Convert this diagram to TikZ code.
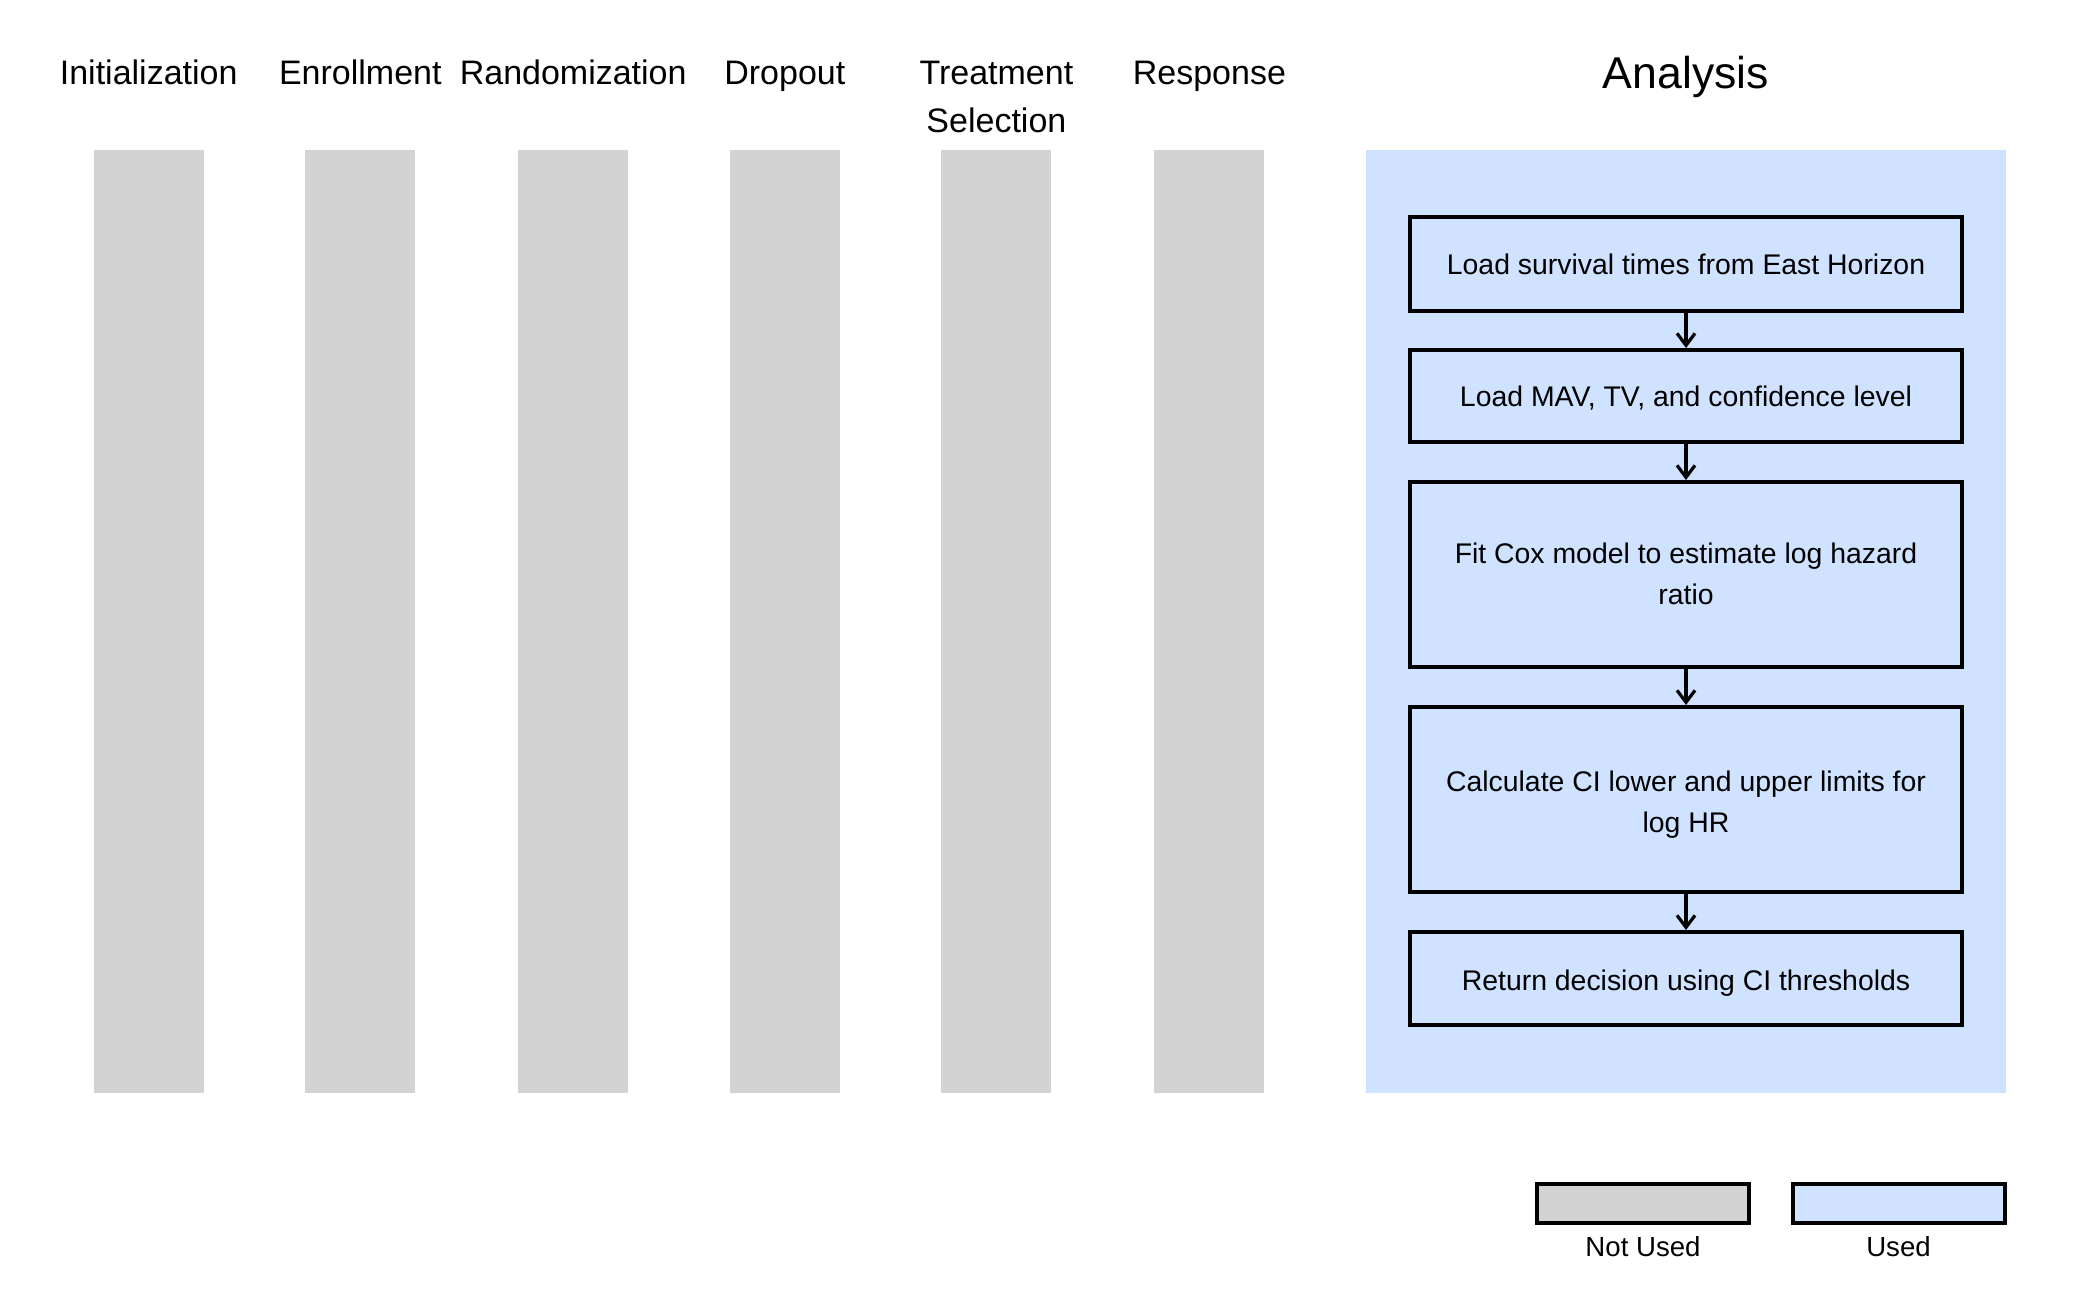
\documentclass[tikz,border=0pt]{standalone}
\usepackage{fontspec}
\setmainfont{Liberation Sans}
\usetikzlibrary{arrows.meta}
\definecolor{unused}{RGB}{211,211,211}
\definecolor{used}{RGB}{207,226,255}
\newcommand{\lowered}[2]{\raisebox{-#1}[\height][\depth]{\begin{tabular}{@{}c@{}}#2\end{tabular}}}
\tikzset{
  px/.style={x=0.5pt,y=-0.5pt},
  lane/.style={rectangle,fill=unused,draw=none,minimum width=55pt,minimum height=471.5pt,inner sep=0pt},
  lanelabel/.style={font=\fontsize{17}{24}\selectfont,align=center,inner sep=0pt,anchor=base},
  stepbox/.style={rectangle,draw=black,line width=2pt,fill=used,minimum width=276pt,align=center,font=\fontsize{14.2}{20.7}\selectfont,inner sep=0pt},
  flow/.style={line width=1.6pt,-{Straight Barb[length=6pt,width=9pt,line width=1.6pt]}},
  legbox/.style={rectangle,draw=black,line width=2pt,minimum width=106pt,minimum height=19.5pt,inner sep=0pt},
  legtext/.style={font=\fontsize{13.8}{16}\selectfont,inner sep=0pt}
}
\begin{document}
\begin{tikzpicture}[px]
\useasboundingbox (0,0) rectangle (2100,1297);
\fill[white] (0,0) rectangle (2100,1297);
% lanes
\node[lane] (l1) at (148.7,621.5) {};
\node[lane] (l2) at (360.3,621.5) {};
\node[lane] (l3) at (573.2,621.5) {};
\node[lane] (l4) at (784.8,621.5) {};
\node[lane] (l5) at (996.4,621.5) {};
\node[lane] (l6) at (1209.4,621.5) {};
\node[rectangle,fill=used,draw=none,minimum width=320pt,minimum height=471.5pt,inner sep=0pt] (an) at (1686,621.5) {};
% labels
\node[lanelabel] (t1) at (148.7,84) {Initialization};
\node[lanelabel] (t2) at (360.3,84) {Enrollment};
\node[lanelabel] (t3) at (573.2,84) {Randomization};
\node[lanelabel] (t4) at (784.8,84) {Dropout};
\node[lanelabel] (t5) at (996.4,132) {Treatment\\Selection};
\node[lanelabel] (t6) at (1209.4,84) {Response};
\node[font=\fontsize{22.3}{26}\selectfont,inner sep=0pt,anchor=base] (ta) at (1686,88) {Analysis};
% steps
\node[stepbox,minimum height=47pt] (s1) at (1686,264) {Load survival times from East Horizon};
\node[stepbox,minimum height=46pt] (s2) at (1686,396) {\lowered{1.3pt}{Load MAV, TV, and confidence level}};
\node[stepbox,minimum height=92.5pt] (s3) at (1686,574.5) {\lowered{0.7pt}{Fit Cox model to estimate log hazard\\ratio}};
\node[stepbox,minimum height=92.5pt] (s4) at (1686,799.5) {\lowered{2pt}{Calculate CI lower and upper limits for\\log HR}};
\node[stepbox,minimum height=46.5pt] (s5) at (1686,978.5) {\lowered{2pt}{Return decision using CI thresholds}};
\draw[flow] (s1.south) -- (s2.north);
\draw[flow] (s2.south) -- (s3.north);
\draw[flow] (s3.south) -- (s4.north);
\draw[flow] (s4.south) -- (s5.north);
% legend
\node[legbox,fill=unused] (k1) at (1643,1203.5) {};
\node[legbox,fill=used] (k2) at (1898.5,1203.5) {};
\node[legtext] (k1t) at (1643,1247) {Not Used};
\node[legtext] (k2t) at (1898.5,1247) {Used};
\end{tikzpicture}
\end{document}
